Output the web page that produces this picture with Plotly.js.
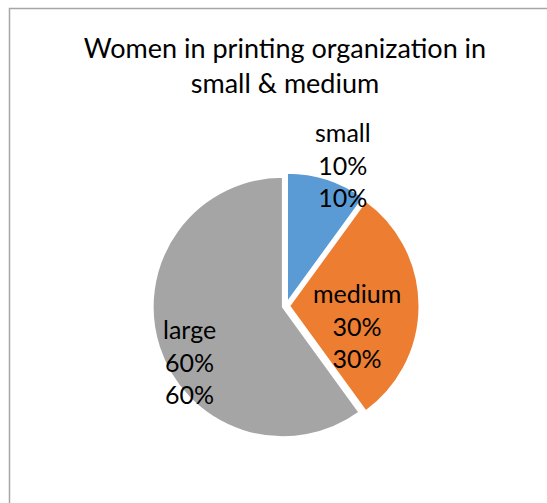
<!DOCTYPE html>
<html>
<head>
<meta charset="utf-8">
<script src="https://cdn.plot.ly/plotly-3.0.1.min.js"></script>
<style>
html, body { margin: 0; padding: 0; background: #fff; }
#chart { width: 547px; height: 503px; }
</style>
</head>
<body>
<div id="chart"></div>
<script>
var categories = ["small", "medium", "large"];
var values = [0.10, 0.30, 0.60];
var colors = ["#5B9BD5", "#ED7D31", "#A5A5A5"];
var titleText = "Women in printing organization in<br>small &amp; medium";

// label placement style (angle offset from slice bisector in degrees, distance as fraction of radius)
var labelAngleOffset = [4, 15, -12];
var labelRadiusFrac = [1.17, 0.565, 0.855];

var W = 547, H = 503;
var cx = 286, cy = 306, R = 133.5;
var pullFrac = 0.025;
var rDraw = R / (1 + pullFrac);

var fontFam = "Lato, 'Open Sans', sans-serif";

var trace = {
  type: "pie",
  labels: categories,
  values: values,
  sort: false,
  direction: "clockwise",
  rotation: 0,
  pull: categories.map(function () { return pullFrac; }),
  marker: { colors: colors, line: { color: "#ffffff", width: 2 } },
  textinfo: "none",
  showlegend: false,
  hoverinfo: "label+percent",
  domain: {
    x: [(cx - R) / W, (cx + R) / W],
    y: [1 - (cy + R) / H, 1 - (cy - R) / H]
  }
};

// data labels computed from the slice angles
var total = values.reduce(function (a, b) { return a + b; }, 0);
var annotations = [];
var cum = 0;
for (var i = 0; i < values.length; i++) {
  var frac = values[i] / total;
  var mid = (cum + frac / 2) * 360 + labelAngleOffset[i];
  cum += frac;
  var a = mid * Math.PI / 180;
  var d = labelRadiusFrac[i] * rDraw;
  var px = cx + d * Math.sin(a);
  var py = cy - d * Math.cos(a);
  var pct = Math.round(frac * 100) + "%";
  var val = Math.round(values[i] * 100) + "%";
  annotations.push({
    xref: "paper", yref: "paper",
    x: px / W, y: 1 - py / H,
    xanchor: "center", yanchor: "middle",
    showarrow: false,
    align: "center",
    text: categories[i] + "<br>" + val + "<br>" + pct,
    font: { family: fontFam, size: 25, color: "#000000" }
  });
}

var layout = {
  width: W,
  height: H,
  margin: { l: 0, r: 0, t: 0, b: 0 },
  paper_bgcolor: "#ffffff",
  plot_bgcolor: "#ffffff",
  showlegend: false,
  title: {
    text: titleText,
    font: { family: fontFam, size: 27, color: "#000000" },
    xref: "container",
    yref: "container",
    x: 285 / W,
    xanchor: "center",
    y: 1 - 57.5 / H,
    yanchor: "middle"
  },
  annotations: annotations,
  shapes: [{
    type: "rect",
    xref: "paper",
    yref: "paper",
    x0: 9.5 / W,
    x1: 1.05,
    y0: -0.05,
    y1: 1 - 8.5 / H,
    line: { color: "#A6A6A6", width: 1.5 },
    fillcolor: "rgba(0,0,0,0)",
    layer: "above"
  }]
};

Plotly.newPlot("chart", [trace], layout, { displayModeBar: false, staticPlot: true });
</script>
</body>
</html>
